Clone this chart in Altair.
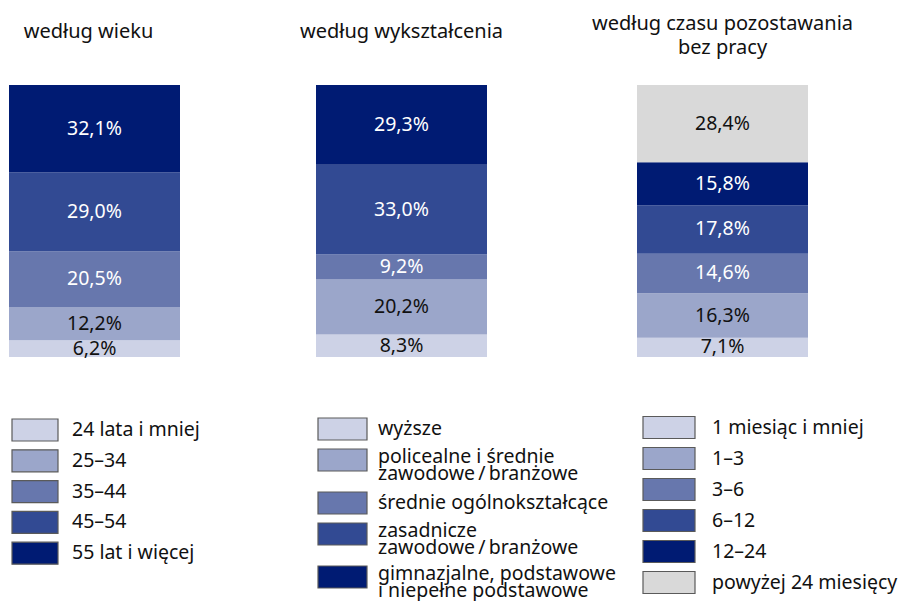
import altair as alt
import pandas as pd

# ---- data ----
titles = ["według wieku", "według wykształcenia", "według czasu pozostawania\nbez pracy"]

age_labels = ["24 lata i mniej", "25–34", "35–44", "45–54", "55 lat i więcej"]
age_values = [6.2, 12.2, 20.5, 29.0, 32.1]

edu_labels = ["wyższe",
              "policealne i średnie\nzawodowe\u2009/\u2009branżowe",
              "średnie ogólnokształcące",
              "zasadnicze\nzawodowe\u2009/\u2009branżowe",
              "gimnazjalne, podstawowe\ni niepełne podstawowe"]
edu_values = [8.3, 20.2, 9.2, 33.0, 29.3]

time_labels = ["1 miesiąc i mniej", "1–3", "3–6", "6–12", "12–24", "powyżej 24 miesięcy"]
time_values = [7.1, 16.3, 14.6, 17.8, 15.8, 28.4]

blues = ["#cdd2e6", "#9ba6ca", "#6777ad", "#324a93", "#001b73"]
gray = "#d9d9d9"

FONT = "Noto Sans"
BAR_W = 171
BAR_H = 272
TITLE_H = 57
LEG_H = 200
VSP = 20
PANEL_W = [207, 221, 171]
HSP = 100


def title_panel(title, width, dx):
    tl = title.split("\n")
    tdf = pd.DataFrame({
        "line": tl,
        "y": [24 - 8 * (len(tl) - 1) + 24 * i for i in range(len(tl))],
    })
    return alt.Chart(tdf).mark_text(
        font=FONT, fontSize=20, color="#111111", baseline="middle", align="center", dx=dx
    ).encode(
        x=alt.value(BAR_W / 2),
        y=alt.Y("y:Q", scale=alt.Scale(domain=[0, TITLE_H], range=[0, TITLE_H]), axis=None),
        text="line:N",
    ).properties(width=width, height=TITLE_H)


def bar_panel(values, colors, dark, width):
    n = len(values)
    df = pd.DataFrame({
        "group": ["g"] * n,
        "value": values,
        "order": list(range(n)),
        "color": colors,
        "tcolor": ["white" if d else "#111111" for d in dark],
    })
    po = (width / BAR_W - 1) / 2
    xscale = alt.Scale(paddingInner=0, paddingOuter=po, align=0)
    yscale = alt.Scale(domain=[0, 100], nice=False)
    base = alt.Chart(df)
    bars = base.mark_bar().encode(
        x=alt.X("group:N", axis=None, scale=xscale),
        y=alt.Y("value:Q", stack="zero", axis=None, scale=yscale),
        color=alt.Color("color:N", scale=None),
        order=alt.Order("order:Q", sort="ascending"),
    )
    labels_ch = base.transform_stack(
        stack="value", groupby=["group"], as_=["y0", "y1"],
        sort=[alt.SortField("order", order="ascending")],
    ).transform_calculate(
        mid="(datum.y0 + datum.y1) / 2",
        lab="replace(format(datum.value, '.1f'), '.', ',') + '%'",
    ).mark_text(font=FONT, fontSize=19.5, baseline="middle", align="center").encode(
        x=alt.X("group:N", axis=None, scale=xscale),
        y=alt.Y("mid:Q", axis=None, scale=yscale),
        text="lab:N",
        color=alt.Color("tcolor:N", scale=None),
    )
    return alt.layer(bars, labels_ch).properties(width=width, height=BAR_H)


def legend_panel(labels, colors, width, sw_x, sw_w, tx_x, first_y, step, extra_line):
    centers = []
    extra = 0
    for i, lab in enumerate(labels):
        centers.append(first_y + step * i + extra_line * extra)
        extra += lab.count("\n")
    ldf = pd.DataFrame({
        "top": [c - 11 for c in centers],
        "bot": [c + 11 for c in centers],
        "color": colors,
    })
    rows = []
    for c, lab in zip(centers, labels):
        parts = lab.split("\n")
        if len(parts) == 1:
            rows.append({"t": parts[0], "y": c})
        else:
            for j, p in enumerate(parts):
                rows.append({"t": p, "y": c - 3 + 17 * j})
    txdf = pd.DataFrame(rows)
    lscale = alt.Scale(domain=[0, LEG_H], range=[0, LEG_H])
    rects = alt.Chart(ldf).mark_rect(stroke="#5a5a5a", strokeWidth=1.2).encode(
        x=alt.value(sw_x), x2=alt.value(sw_x + sw_w),
        y=alt.Y("top:Q", scale=lscale, axis=None), y2="bot:Q",
        color=alt.Color("color:N", scale=None),
    )
    ltext = alt.Chart(txdf).mark_text(
        font=FONT, fontSize=19.5, color="#111111", align="left", baseline="middle"
    ).encode(
        x=alt.value(tx_x),
        y=alt.Y("y:Q", scale=lscale, axis=None),
        text="t:N",
    )
    return alt.layer(rects, ltext).properties(width=width, height=LEG_H)


dark5 = [False, False, True, True, True]
dark6 = [False, False, True, True, True, False]

row_titles = alt.hconcat(
    title_panel(titles[0], PANEL_W[0], -6),
    title_panel(titles[1], PANEL_W[1], 0),
    title_panel(titles[2], PANEL_W[2], 0),
    spacing=HSP, bounds="flush",
)
row_bars = alt.hconcat(
    bar_panel(age_values, blues, dark5, PANEL_W[0]),
    bar_panel(edu_values, blues, dark5, PANEL_W[1]),
    bar_panel(time_values, blues + [gray], dark6, PANEL_W[2]),
    spacing=HSP, bounds="flush",
)
row_legend = alt.hconcat(
    legend_panel(age_labels, blues, PANEL_W[0], 3, 46, 63, 51, 30.8, 0),
    legend_panel(edu_labels, blues, PANEL_W[1], 2, 49, 62, 50, 31, 12),
    legend_panel(time_labels, blues + [gray], PANEL_W[2], 6, 52, 75, 48.5, 31, 0),
    spacing=HSP, bounds="flush",
)

chart = alt.vconcat(row_titles, row_bars, row_legend, spacing=VSP).properties(
    padding={"left": 1, "top": 0, "right": 0, "bottom": 0},
    background="white",
).configure_view(stroke=None)

chart.save("out.html", embed_options={"renderer": "svg", "actions": False})
